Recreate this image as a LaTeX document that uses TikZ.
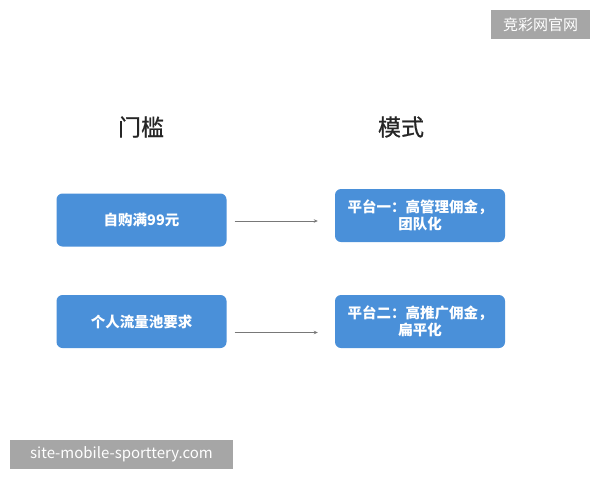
\documentclass[tikz,border=0pt]{standalone}
\usepackage{fontspec}
\newfontfamily\cjk{Noto Sans CJK SC}
\newfontfamily\cjkfb[FakeBold=0.6]{Noto Sans CJK SC}
\usetikzlibrary{arrows.meta}
\definecolor{boxblue}{RGB}{74,144,217}
\definecolor{wmgray}{RGB}{166,166,166}
\definecolor{arrgray}{RGB}{120,120,120}
\tikzset{
  bluebox/.style={draw=none, fill=boxblue, rounded corners=6pt, minimum width=170pt, minimum height=53pt,
    text=white, font=\cjk\bfseries\fontsize{14.5}{17}\selectfont, align=center, inner sep=0pt},
  header/.style={font=\cjkfb\fontsize{23}{26}\selectfont, text=black!85},
  wmark/.style={fill=wmgray, text=white, inner sep=0pt, font=\cjk\fontsize{15}{18}\selectfont},
  conn/.style={draw=arrgray, line width=0.7pt, -{Stealth[length=4pt,width=3.5pt]}}
}
\begin{document}
\begin{tikzpicture}[x=1pt,y=-1pt]
\useasboundingbox (0,0) rectangle (600,480);
\fill[white] (0,0) rectangle (600,480);
\node[wmark, minimum width=99pt, minimum height=29pt] (wm1) at (540.5,24.5) {竞彩网官网};
\node[wmark, minimum width=223pt, minimum height=29pt] (wm2) at (121.5,454.5) {site-mobile-sporttery.com};
\node[header] (h1) at (141,127) {门槛};
\node[header] (h2) at (401,127) {模式};
\node[bluebox] (l1) at (141.5,220) {自购满99元};
\node[bluebox] (r1) at (420,215.5) {平台一：高管理佣金，\\团队化};
\node[bluebox] (l2) at (141.5,321.5) {个人流量池要求};
\node[bluebox] (r2) at (420,321.5) {平台二：高推广佣金，\\扁平化};
\draw[conn, shorten <=8pt, shorten >=17pt] ([yshift=-1pt]l1.east) -- ([yshift=-1pt]l1.east -| r1.west);
\draw[conn, shorten <=8pt, shorten >=17pt] ([yshift=-11pt]l2.east) -- ([yshift=-11pt]l2.east -| r2.west);
\end{tikzpicture}
\end{document}
